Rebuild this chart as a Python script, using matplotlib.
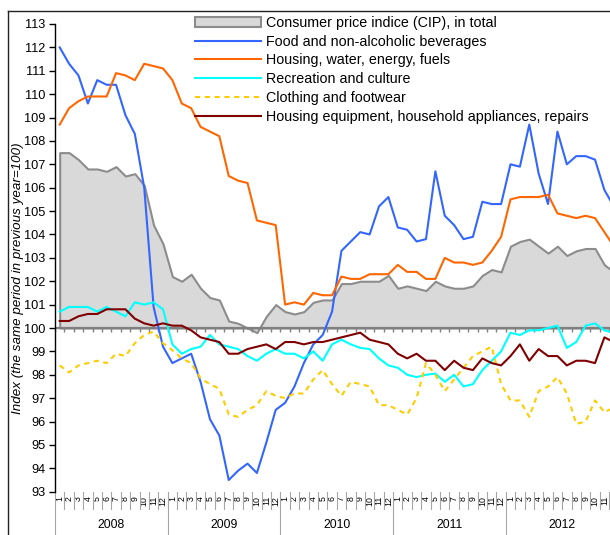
"""
plot.py
-------
Consumer price indices by group, 2008-2012 (same period of previous year = 100).
"""
import numpy as np
import matplotlib

matplotlib.use("Agg")
import matplotlib.pyplot as plt
from matplotlib.lines import Line2D

plt.rcParams["font.family"] = ["Liberation Sans", "DejaVu Sans"]

# === Data ===
years = ["2008", "2009", "2010", "2011", "2012"]
months = [str(m) for m in range(1, 13)]

cpi_total = [107.5, 107.5, 107.2, 106.8, 106.8, 106.7, 106.9, 106.5, 106.6, 106.1, 104.4, 103.6,
             102.2, 102.0, 102.3, 101.7, 101.3, 101.2, 100.3, 100.2, 100.0, 99.8, 100.5, 101.0,
             100.7, 100.6, 100.7, 101.1, 101.2, 101.2, 101.9, 101.9, 102.0, 102.0, 102.0, 102.25,
             101.7, 101.8, 101.7, 101.6, 102.0, 101.8, 101.7, 101.7, 101.8, 102.25, 102.5, 102.4,
             103.5, 103.7, 103.8, 103.5, 103.2, 103.5, 103.1, 103.3, 103.4, 103.4, 102.7, 102.4]

food = [112.0, 111.3, 110.8, 109.6, 110.6, 110.4, 110.4, 109.1, 108.3, 106.0, 100.9, 99.2,
        98.5, 98.7, 98.9, 97.7, 96.1, 95.4, 93.5, 93.9, 94.2, 93.8, 95.1, 96.5,
        96.8, 97.5, 98.5, 99.3, 99.7, 100.7, 103.3, 103.7, 104.1, 104.0, 105.2, 105.6,
        104.3, 104.2, 103.7, 103.8, 106.7, 104.8, 104.4, 103.8, 103.9, 105.4, 105.3, 105.3,
        107.0, 106.9, 108.7, 106.6, 105.3, 108.4, 107.0, 107.35, 107.35, 107.2, 105.9, 105.2]

housing = [108.7, 109.4, 109.7, 109.9, 109.9, 109.9, 110.9, 110.8, 110.6, 111.3, 111.2, 111.1,
           110.6, 109.6, 109.4, 108.6, 108.4, 108.2, 106.5, 106.3, 106.2, 104.6, 104.5, 104.4,
           101.0, 101.1, 101.0, 101.5, 101.4, 101.4, 102.2, 102.1, 102.1, 102.3, 102.3, 102.3,
           102.7, 102.4, 102.4, 102.1, 102.1, 103.0, 102.8, 102.8, 102.7, 102.8, 103.3, 103.9,
           105.5, 105.6, 105.6, 105.6, 105.7, 104.9, 104.8, 104.7, 104.8, 104.7, 104.1, 103.5]

recreation = [100.7, 100.9, 100.9, 100.9, 100.7, 100.9, 100.7, 100.5, 101.1, 101.0, 101.1, 100.8,
              99.3, 98.9, 99.1, 99.2, 99.7, 99.3, 99.2, 99.1, 98.8, 98.6, 98.9, 99.1,
              98.9, 98.9, 98.7, 99.0, 98.6, 99.3, 99.5, 99.3, 99.15, 99.1, 98.7, 98.4,
              98.3, 98.0, 97.9, 98.0, 98.05, 97.7, 98.0, 97.5, 97.6, 98.2, 98.6, 99.0,
              99.8, 99.7, 99.9, 99.9, 100.0, 100.1, 99.15, 99.4, 100.1, 100.2, 99.9, 99.8]

clothing = [98.4, 98.1, 98.4, 98.5, 98.6, 98.5, 98.9, 98.8, 99.35, 99.7, 99.85, 99.35,
            99.05, 98.7, 98.5, 97.85, 97.6, 97.4, 96.3, 96.2, 96.5, 96.7, 97.3, 97.1,
            97.0, 97.2, 97.2, 97.8, 98.2, 97.6, 97.1, 97.7, 97.6, 97.5, 96.7, 96.7,
            96.5, 96.3, 97.0, 98.5, 98.0, 97.3, 97.8, 98.3, 98.8, 99.0, 99.2, 97.6,
            96.9, 96.9, 96.2, 97.3, 97.5, 97.9, 97.2, 95.9, 96.0, 96.9, 96.4, 96.6]

equipment = [100.3, 100.3, 100.5, 100.6, 100.6, 100.8, 100.8, 100.8, 100.4, 100.2, 100.1, 100.2,
             100.1, 100.1, 99.9, 99.6, 99.5, 99.4, 98.9, 98.9, 99.1, 99.2, 99.3, 99.1,
             99.4, 99.4, 99.3, 99.4, 99.4, 99.5, 99.6, 99.7, 99.8, 99.5, 99.4, 99.3,
             98.9, 98.7, 98.9, 98.6, 98.6, 98.2, 98.6, 98.3, 98.2, 98.7, 98.5, 98.4,
             98.8, 99.3, 98.6, 99.1, 98.8, 98.8, 98.4, 98.6, 98.6, 98.5, 99.6, 99.4]

# === Figure layout (pixels) ===
W, H = 610, 535

fig = plt.figure(figsize=(W / 100, H / 100), dpi=100)
fig.patch.set_facecolor("white")
# plot area runs slightly past the right edge, like the cropped original
ax = fig.add_axes([55 / W, 1 - 491.7 / H, 563.5 / W, 467.7 / H])

x = np.arange(len(cpi_total))

# area series filled against the 100 baseline
ax.fill_between(x, 100, cpi_total, facecolor="#d9d9d9", edgecolor="#8c8c8c", lw=1.5,
                label="Consumer price indice (CIP), in total", zorder=1)
ax.axhline(100, color="#808080", lw=1.6, zorder=2)
ax.vlines(np.arange(-0.5, len(x)), 99.83, 100, color="#808080", lw=1, zorder=2)

ax.plot(x, food, color="#3366ff", lw=1.5, label="Food and non-alcoholic beverages", zorder=3)
ax.plot(x, housing, color="#ff6600", lw=1.5, label="Housing, water, energy, fuels", zorder=3)
ax.plot(x, recreation, color="#00ffff", lw=1.5, label="Recreation and culture", zorder=3)
ax.plot(x, clothing, color="#ffcc00", lw=1.5, ls=(0, (2.5, 2.2)),
        label="Clothing and footwear", zorder=3)
ax.plot(x, equipment, color="#800000", lw=1.5,
        label="Housing equipment, household appliances, repairs", zorder=3)

ax.set_xlim(-0.5, len(x) - 0.5)
ax.set_ylim(93, 113)
ax.set_yticks(range(93, 114))
for side in ["top", "right", "bottom"]:
    ax.spines[side].set_visible(False)
ax.spines["left"].set_linewidth(1)
ax.tick_params(axis="y", direction="out", length=4, width=1, pad=3, labelsize=9.2)

# month labels, vertical (the last one falls outside the cropped figure)
month_labels = months * len(years)
month_labels[-1] = ""
ax.set_xticks(x)
ax.set_xticklabels(month_labels, rotation=90, fontsize=6.3)
ax.tick_params(axis="x", length=0, pad=3)

# category separators below the plot
trans = ax.get_xaxis_transform()
for k in range(len(x) + 1):
    depth = -0.1 if k % 12 == 0 else -0.038
    ax.plot([k - 0.5, k - 0.5], [0, depth], transform=trans, clip_on=False,
            color="#a6a6a6", lw=0.8)
for i, yr in enumerate(years):
    ax.text(12 * i + 5.5, -0.071, yr, transform=trans, ha="center", va="center", fontsize=8.8)

fig.text(18 / W, 1 - 278 / H, "Index (the same period in previous year=100)",
         rotation=90, style="italic", ha="center", va="center", fontsize=9.6)

# chart area border
fig.add_artist(Line2D([7.5 / W, 7.5 / W], [0, 1 - 11 / H], transform=fig.transFigure,
                      color="#222222", lw=1))
fig.add_artist(Line2D([7.5 / W, 1], [1 - 11 / H, 1 - 11 / H], transform=fig.transFigure,
                      color="#222222", lw=1))

ax.legend(loc="upper left", bbox_to_anchor=(195 / W, 1 - 16 / H), bbox_transform=fig.transFigure,
          frameon=False, fontsize=10.3, handlelength=4.6, handletextpad=0.35, labelspacing=0.33,
          borderpad=0, borderaxespad=0)

fig.savefig("out.png", dpi=100)
